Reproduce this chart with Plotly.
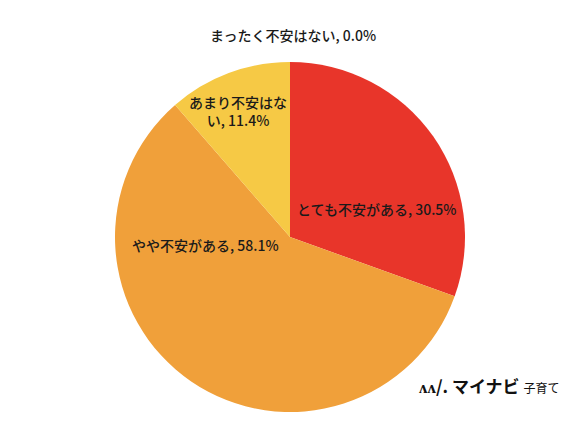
import plotly.graph_objects as go

# answers, clockwise from 12 o'clock
labels = ['とても不安がある', 'やや不安がある', 'あまり不安はない', 'まったく不安はない']
values = [30.5, 58.1, 11.4, 0.0]
colors = ['#E8352A', '#F0A03A', '#F6C945', '#C8C8C8']

# label centres in reference pixels (x, y from top-left) and wrapped texts
label_pos = [(376, 209), (206, 245), (238, 111), (293, 35)]
label_text = [
    f'{labels[0]}, {values[0]:.1f}%',
    f'{labels[1]}, {values[1]:.1f}%',
    f'あまり不安はな<br>い, {values[2]:.1f}%',
    f'{labels[3]}, {values[3]:.1f}%',
]

W, H = 586, 432
OFF = 8  # page body margin in the screenshot
cx, cy, r = 290 - OFF, 237 - OFF, 175


def px2paper(x, y):
    return (x - OFF) / W, 1 - (y - OFF) / H


fig = go.Figure(go.Pie(
    labels=labels, values=values,
    marker=dict(colors=colors, line=dict(width=0)),
    sort=False, direction='clockwise', rotation=0,
    textinfo='none', hoverinfo='label+percent',
    showlegend=False,
    domain=dict(x=[(cx - r) / W, (cx + r) / W], y=[1 - (cy + r) / H, 1 - (cy - r) / H]),
))

for (x, y), t in zip(label_pos, label_text):
    ax, ay = px2paper(x, y)
    fig.add_annotation(x=ax, y=ay, xref='paper', yref='paper',
                       xanchor='center', yanchor='middle',
                       text=t, showarrow=False, align='center',
                       font=dict(family='Noto Sans CJK JP', size=14, color='#1a1a1a', weight=500))

# logo
lx, ly = px2paper(489, 385)
fig.add_annotation(x=lx, y=ly, xref='paper', yref='paper',
                   xanchor='center', yanchor='middle',
                   text='<b>ʌʌ/. マイナビ</b> <span style="font-size:12px">子育て</span>',
                   showarrow=False,
                   font=dict(family='Noto Sans CJK JP', size=17, color='#111111'))

fig.update_layout(
    width=W, height=H,
    margin=dict(l=0, r=0, t=0, b=0),
    paper_bgcolor='white', plot_bgcolor='white',
)

fig.write_html("out.html")
